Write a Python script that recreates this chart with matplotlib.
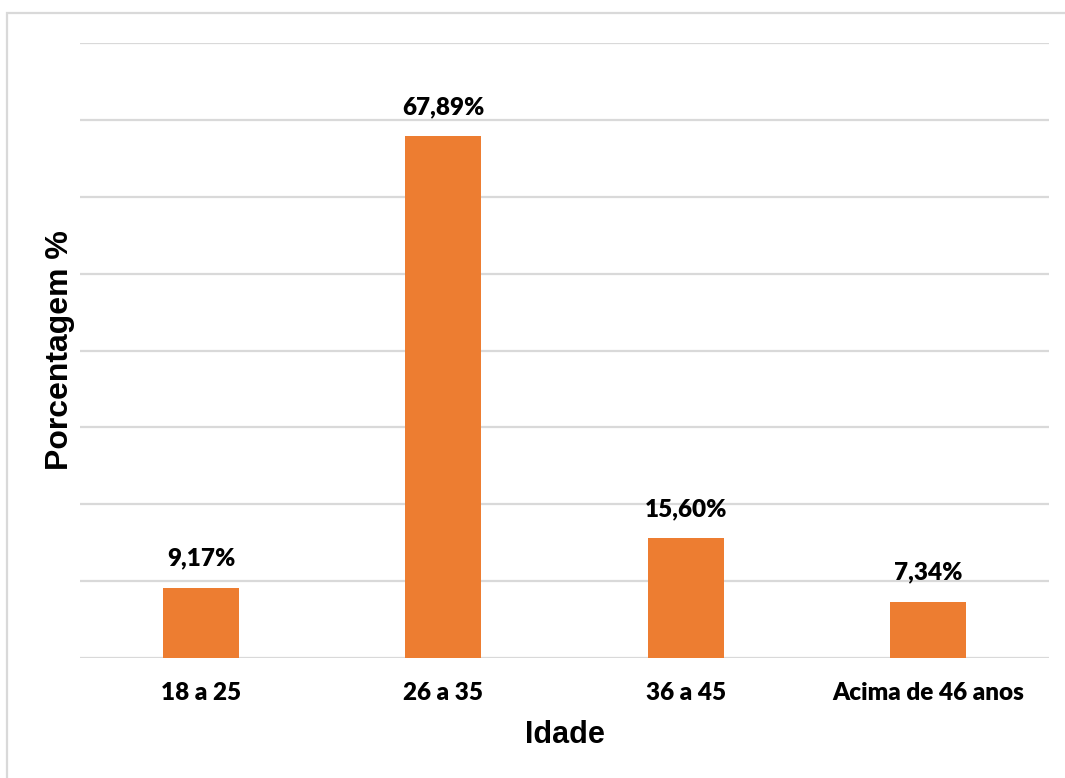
import matplotlib
matplotlib.use("Agg")
import matplotlib.pyplot as plt
from matplotlib.patches import Rectangle

categories = ["18 a 25", "26 a 35", "36 a 45", "Acima de 46 anos"]
values = [9.17, 67.89, 15.60, 7.34]
value_labels = ["9,17%", "67,89%", "15,60%", "7,34%"]

bar_color = "#ED7D31"
grid_color = "#D9D9D9"
label_font = "Lato"
title_font = "Liberation Sans"
label_weight = "heavy"

fig = plt.figure(figsize=(10.65, 7.78), dpi=100)
ax = fig.add_axes([0.0751, 0.1542, 0.9099, 0.7905])

x = range(len(categories))
bars = ax.bar(x, values, width=0.314, color=bar_color, zorder=3)

ax.set_xlim(-0.5, len(categories) - 0.5)
ax.set_ylim(0, 80)
ax.set_yticks(range(0, 81, 10))
ax.yaxis.grid(True, color=grid_color, linewidth=1.6, zorder=0)
ax.tick_params(axis="y", left=False, labelleft=False)
ax.tick_params(axis="x", bottom=False, pad=14)
ax.set_xticks(list(x))
ax.set_xticklabels(categories, fontfamily=label_font, fontweight=label_weight, fontsize=17.5)
for s in ax.spines.values():
    s.set_visible(False)

for rect, lab in zip(bars, value_labels):
    ax.annotate(lab, (rect.get_x() + rect.get_width() / 2, rect.get_height()),
                xytext=(0, 13), textcoords="offset points", ha="center", va="bottom",
                fontfamily=label_font, fontweight=label_weight, fontsize=17.5)

fig.text(0.530, 1 - 735 / 778, "Idade", ha="center", va="center",
         fontfamily=title_font, fontweight="bold", fontsize=22)
fig.text(60 / 1065, 1 - 350 / 778, "Porcentagem %", ha="center", va="center",
         rotation=90, fontfamily=title_font, fontweight="bold", fontsize=23)

# outer chart frame (top and left edges visible)
fig.patches.append(Rectangle((7 / 1065, -0.1), 1.2, 1 - 13 / 778 + 0.1,
                             transform=fig.transFigure, fill=False,
                             edgecolor=grid_color, linewidth=1.6))

fig.savefig("out.png", dpi=100)
